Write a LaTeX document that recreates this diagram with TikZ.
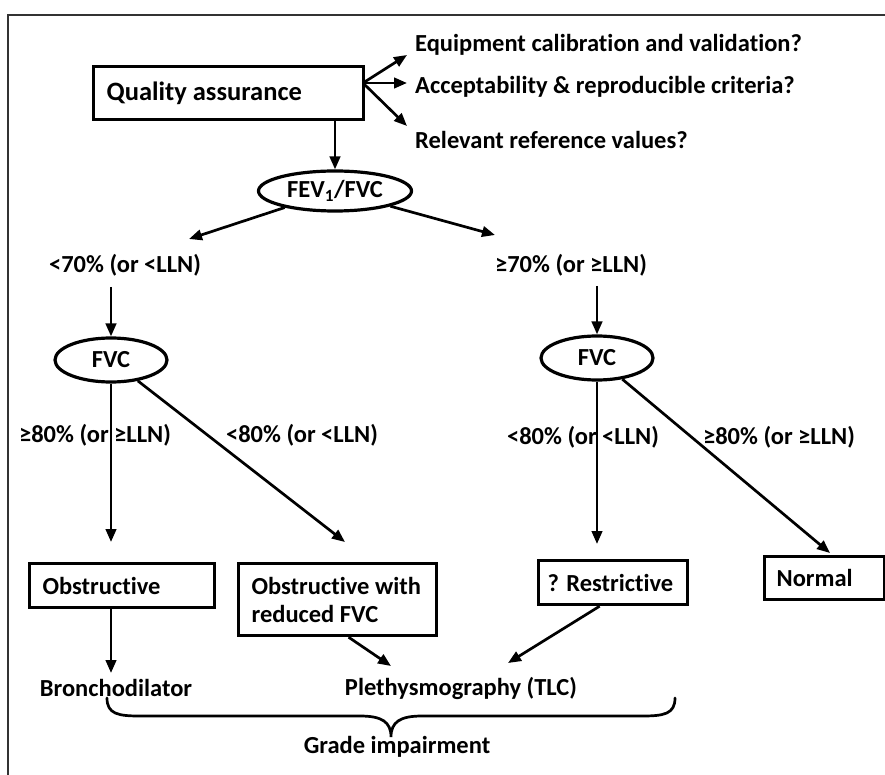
\documentclass[tikz,border=0pt]{standalone}
\usepackage{fontspec}
\setmainfont{Carlito}[Ligatures=NoCommon]
\usetikzlibrary{arrows.meta,shapes.geometric}
\begin{document}
\begin{tikzpicture}[x=1pt,y=-1pt,
 every node/.style={font=\bfseries\fontsize{24.5}{28}\selectfont, inner sep=0pt},
 box/.style={draw, line width=3.2pt, rectangle, anchor=north west, align=flush left},
 oval/.style={draw, ellipse, line width=3.2pt, inner sep=0pt},
 arr/.style={line width=2.7pt, -{Triangle[length=13pt,width=10.5pt]}},
 side/.style={anchor=west}]
\useasboundingbox (0,0) rectangle (885,775);
\fill[white] (0,0) rectangle (885,775);
\draw[line width=1.3pt, black!80] (8,775) -- (8,15) -- (885,15);

% top
\node[box, minimum height=53pt, text width=244pt, inner xsep=13pt, font=\bfseries\fontsize{26.5}{30}\selectfont] (qa) at (92,65) {Quality assurance};
\coordinate (qo) at (363,83);
\coordinate (q1) at (407,55);
\coordinate (q2) at (407,83);
\coordinate (q3) at (407,126);
\draw[arr] (qo) -- (q1);
\draw[arr] (qo) -- (q2);
\draw[arr] (qo) -- (q3);
\node[side] (e1) at (415,45) {Equipment calibration and validation?};
\node[side] (e2) at (415,87) {Acceptability \& reproducible criteria?};
\node[side] (e3) at (415,140) {Relevant reference values?};

\node[oval, minimum width=153pt, minimum height=40pt] (fev) at (335,191) {FEV\textsubscript{1}/FVC};
\draw[arr] (qa.south -| fev) -- (fev);

\coordinate (c1) at (189,239);
\coordinate (c2) at (495,235);
\draw[arr] (fev) -- (c1);
\draw[arr] (fev) -- (c2);
\node (l70) at (125,265) {<70\% (or <LLN)};
\node (g70) at (571,265) {≥70\% (or ≥LLN)};

\node[oval, minimum width=112pt, minimum height=44pt] (fvcL) at (111,360) {FVC};
\node[oval, minimum width=112pt, minimum height=44pt] (fvcR) at (597,358) {FVC};
\coordinate (s1) at (111,287);
\coordinate (s2) at (597,286);
\draw[arr] (s1) -- (fvcL);
\draw[arr] (s2) -- (fvcR);

\coordinate (t1) at (111,542);
\coordinate (t2) at (345,542);
\coordinate (t3) at (597,544);
\coordinate (t4) at (830,553);
\draw[arr] (fvcL) -- (t1);
\draw[arr] (fvcL) -- (t2);
\draw[arr] (fvcR) -- (t3);
\draw[arr] (fvcR) -- (t4);
\node (a1) at (95,435) {≥80\% (or ≥LLN)};
\node (a2) at (302,435) {<80\% (or <LLN)};
\node (a3) at (583,437) {<80\% (or <LLN)};
\node (a4) at (779,437) {≥80\% (or ≥LLN)};

% bottom boxes
\node[box, minimum height=44pt, text width=159pt, inner xsep=13pt] (ob) at (28,562) {Obstructive};
\node[box, minimum height=72pt, text width=172pt, inner xsep=13pt] (owr) at (237,562) {Obstructive with\\reduced FVC};
\node[box, minimum height=44pt, text width=131pt, inner xsep=9pt] (res) at (537,559) {\mbox{? Restrictive}};
\node[box, minimum height=43pt, text width=96pt, inner xsep=12pt] (nor) at (763,555) {Normal};

\node (bro) at (116,688) {Bronchodilator};
\node (ple) at (461,688) {Plethysmography (TLC)};
\coordinate (t5) at (111,673);
\coordinate (t6) at (391,666);
\coordinate (t7) at (508,663);
\draw[arr] (ob.south -| t5) -- (t5);
\draw[arr] ([xshift=11pt]owr.south) -- (t6);
\draw[arr] ([xshift=-13.5pt]res.south) -- (t7);

\draw[line width=2.7pt, line cap=round] (107,698) .. controls (107,714) and (118,716) .. (140,716) -- (360,716) .. controls (382,716) and (391,722) .. (391,737) .. controls (391,722) and (400,716) .. (422,716) -- (642,716) .. controls (664,716) and (675,714) .. (675,698);
\node (gi) at (397,747) {Grade impairment};
\end{tikzpicture}
\end{document}
